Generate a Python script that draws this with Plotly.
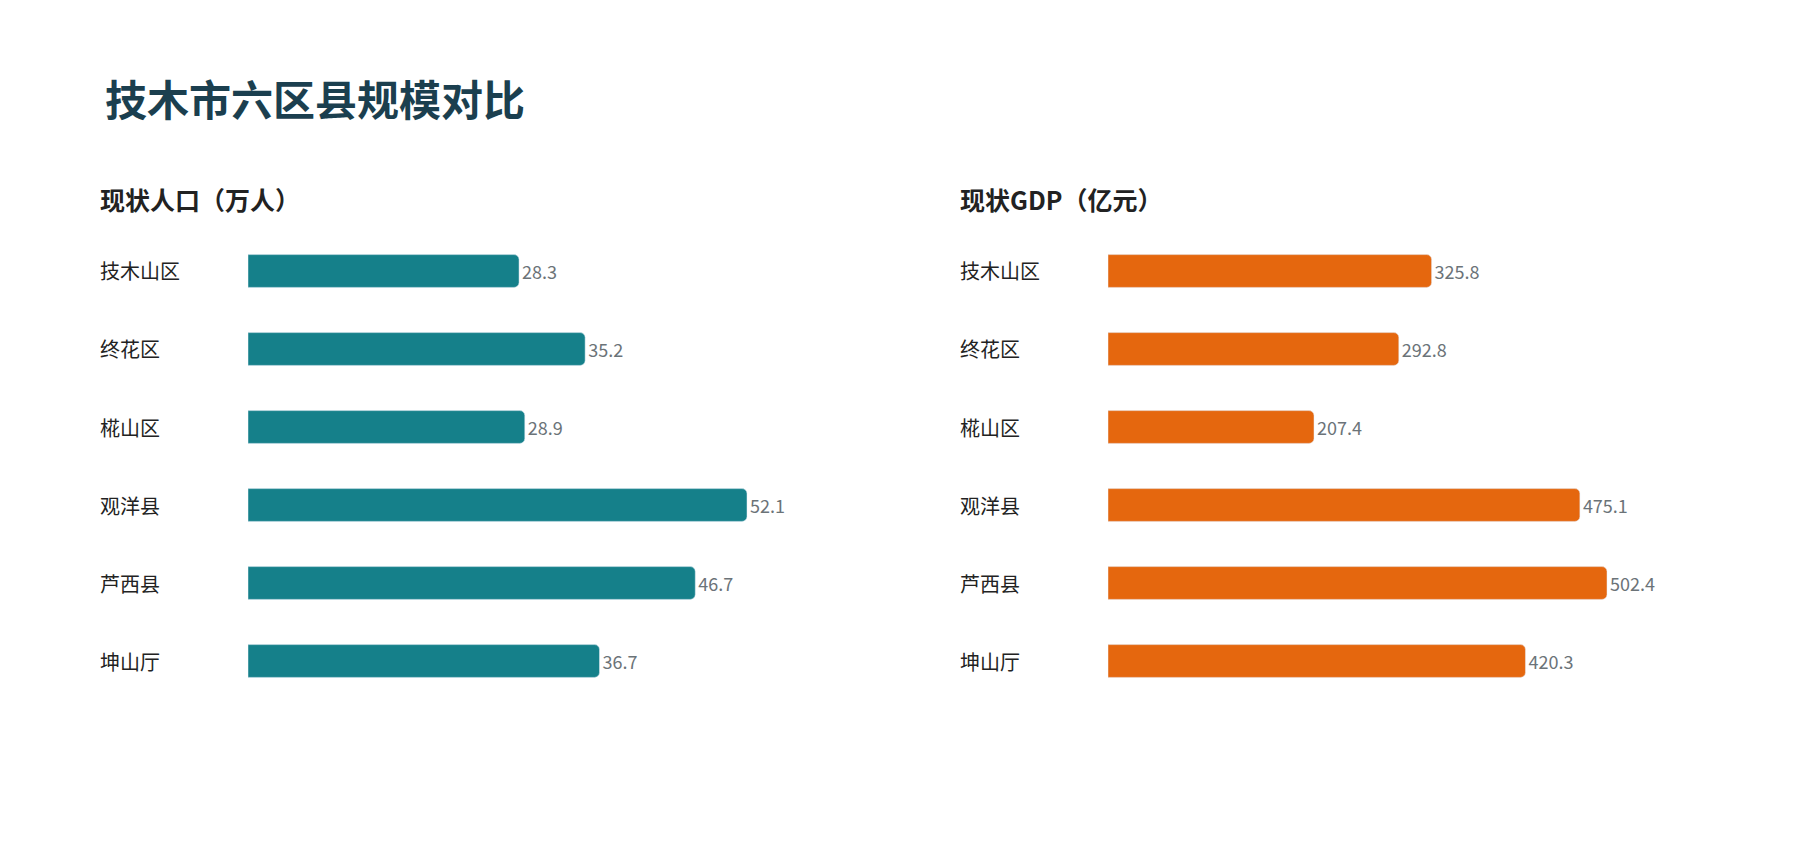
import plotly.graph_objects as go

districts = ["技木山区", "终花区", "椛山区", "观洋县", "芦西县", "坤山厅"]
population = [28.3, 35.2, 28.9, 52.1, 46.7, 36.7]
gdp = [325.8, 292.8, 207.4, 475.1, 502.4, 420.3]

W, H = 1800, 850
FONT = "Noto Sans CJK SC"
fig = go.Figure()
fig.add_trace(go.Bar(y=districts, x=population, orientation="h", marker_color="#15808A",
                     text=[f"{v:.1f}" for v in population], textposition="outside",
                     textfont=dict(color="#6b7378", size=18), cliponaxis=False,
                     xaxis="x", yaxis="y", width=0.42, hoverinfo="skip"))
fig.add_trace(go.Bar(y=districts, x=gdp, orientation="h", marker_color="#E5670E",
                     text=[f"{v:.1f}" for v in gdp], textposition="outside",
                     textfont=dict(color="#6b7378", size=18), cliponaxis=False,
                     xaxis="x2", yaxis="y2", width=0.42, hoverinfo="skip"))

ydom = [1 - 692 / H, 1 - 224 / H]
hidden = dict(showgrid=False, zeroline=False, showticklabels=False, showline=False)
fig.update_layout(
    width=W, height=H, margin=dict(l=0, r=0, t=0, b=0),
    paper_bgcolor="white", plot_bgcolor="white", showlegend=False,
    barcornerradius=5, font=dict(family=FONT),
    xaxis=dict(domain=[240 / W, 840 / W], range=[0, 52.1 * 600 / 499], **hidden),
    xaxis2=dict(domain=[1100 / W, 1700 / W], range=[0, 502.4 * 600 / 499], **hidden),
    yaxis=dict(domain=ydom, autorange="reversed", type="category", **hidden),
    yaxis2=dict(domain=ydom, autorange="reversed", type="category", anchor="x2", **hidden),
)

anns = [
    dict(text="<b>技木市六区县规模对比</b>", x=95 / W, y=1 - 90 / H, font=dict(size=42, color="#1B3F4F")),
    dict(text="<b>现状人口（万人）</b>", x=90 / W, y=1 - 191 / H, font=dict(size=25, color="#222")),
    dict(text="<b>现状GDP（亿元）</b>", x=950 / W, y=1 - 191 / H, font=dict(size=25, color="#222")),
]
for i, d in enumerate(districts):
    yc = 1 - (263 + 78 * i) / H
    anns.append(dict(text=d, x=90 / W, y=yc, font=dict(size=20, color="#222")))
    anns.append(dict(text=d, x=950 / W, y=yc, font=dict(size=20, color="#222")))
for a in anns:
    a.update(xref="paper", yref="paper", xanchor="left", yanchor="middle", showarrow=False)
fig.update_layout(annotations=anns)
fig.write_html("out.html")
